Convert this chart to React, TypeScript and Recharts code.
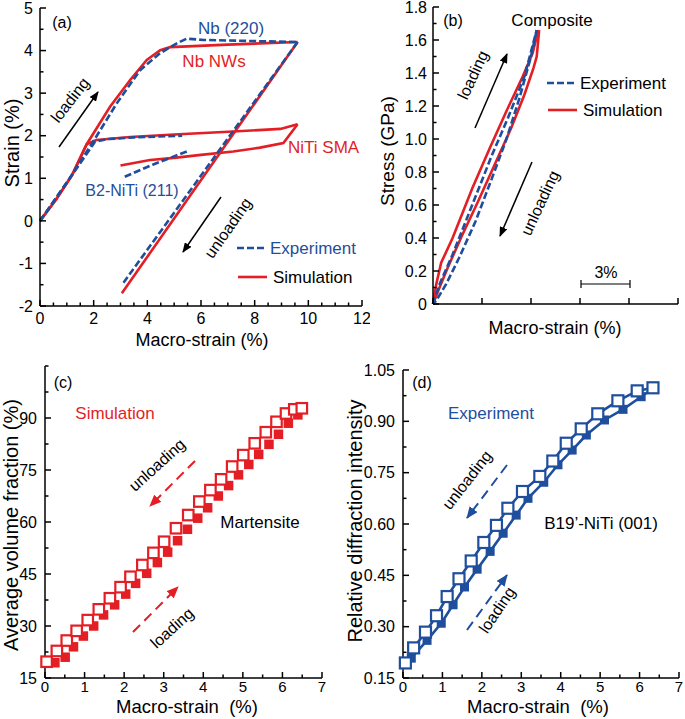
import React from 'react';
import { ComposedChart, ScatterChart, Line, Scatter, XAxis, YAxis } from 'recharts';

const RED = '#e31e24';
const BLUE = '#1f4e9d';
const FONT = 'Arial, "Liberation Sans", sans-serif';

// ---------- (a) lattice strain vs macro-strain ----------
const expNbLoadX = [0, 1.0, 2.05, 2.86, 3.73, 4.48, 5.1, 5.47, 6.1, 9.6];
const expNbLoadY = [0, 0.9, 1.93, 2.76, 3.54, 3.94, 4.17, 4.28, 4.25, 4.2];
const expNbUnloadX = [9.6, 3.08];
const expNbUnloadY = [4.2, -1.48];
const expNiTiLoadX = [0, 1.0, 2.05, 2.5, 3.5, 5.3];
const expNiTiLoadY = [0, 0.9, 1.86, 1.92, 1.96, 2.0];
const expNiTiUnloadX = [5.47, 4.2, 3.1];
const expNiTiUnloadY = [1.63, 1.32, 1.02];

const simNbLoadX = [0, 0.6, 1.2, 1.74, 2.61, 3.36, 3.98, 4.48, 4.85, 7.0, 9.6];
const simNbLoadY = [0, 0.5, 1.08, 1.8, 2.68, 3.31, 3.78, 4.01, 4.08, 4.14, 4.2];
const simNbUnloadX = [9.6, 3.05];
const simNbUnloadY = [4.2, -1.7];
const simNiTiLoadX = [0, 0.6, 1.2, 1.74, 2.1, 3.36, 5.0, 7.2, 8.96, 9.6];
const simNiTiLoadY = [0, 0.5, 1.08, 1.8, 1.9, 1.97, 2.03, 2.1, 2.16, 2.27];
const simNiTiUnloadX = [9.6, 9.07, 8.2, 7.2, 6.0, 5.0, 4.1, 3.0];
const simNiTiUnloadY = [2.27, 1.83, 1.72, 1.63, 1.55, 1.48, 1.43, 1.3];

const aXLabels = [0, 2, 4, 6, 8, 10, 12];
const aYLabels = [-2, -1, 0, 1, 2, 3, 4, 5];

// ---------- (b) composite stress-strain ----------
const bExpLoadX = [0, 0.4, 1.2, 2.4, 3.6, 4.6, 5.6, 6.35];
const bExpLoadY = [0, 0.12, 0.3, 0.6, 0.9, 1.13, 1.38, 1.66];
const bExpUnloadX = [6.35, 6.0, 5.3, 4.5, 3.6, 2.6, 1.6, 0.8, 0.2, 0];
const bExpUnloadY = [1.66, 1.5, 1.25, 1.0, 0.76, 0.5, 0.28, 0.12, 0.02, 0];
const bSimLoadX = [0, 0.2, 0.5, 1.2, 2.4, 3.5, 4.5, 5.5, 6.1, 6.45];
const bSimLoadY = [0, 0.12, 0.25, 0.4, 0.7, 0.95, 1.17, 1.38, 1.52, 1.66];
const bSimUnloadX = [6.5, 6.35, 6.15, 5.6, 4.8, 3.8, 2.8, 1.8, 0.9, 0.4, 0];
const bSimUnloadY = [1.66, 1.5, 1.43, 1.27, 1.07, 0.85, 0.63, 0.42, 0.22, 0.1, 0];

const bXTicks = [0, 3, 6, 9, 12, 15];
const bYLabels = [0, 0.2, 0.4, 0.6, 0.8, 1.0, 1.2, 1.4, 1.6, 1.8];

// ---------- (c) martensite volume fraction (simulation) ----------
const cLoadX = [0.25, 0.51, 0.72, 0.97, 1.23, 1.48, 1.76, 2.04, 2.29, 2.57, 2.84, 3.1, 3.35, 3.6, 3.86, 4.11, 4.38, 4.64, 4.89, 5.15, 5.4, 5.66, 5.9, 6.15, 6.39];
const cLoadY = [19.4, 21.0, 24.0, 27.1, 30.0, 33.2, 36.1, 39.2, 42.3, 45.2, 48.3, 51.3, 54.6, 57.9, 61.1, 64.1, 67.5, 70.5, 73.6, 76.6, 79.5, 82.4, 85.3, 88.5, 90.9];
const cUnloadX = [0.04, 0.3, 0.55, 0.8, 1.08, 1.36, 1.64, 1.91, 2.16, 2.46, 2.74, 3.01, 3.31, 3.62, 3.9, 4.18, 4.45, 4.73, 5.01, 5.3, 5.58, 5.85, 6.09, 6.3, 6.49];
const cUnloadY = [19.7, 22.8, 25.8, 28.6, 31.7, 34.8, 38.0, 41.2, 44.2, 47.6, 51.1, 54.3, 58.2, 62.0, 65.9, 69.2, 72.3, 76.0, 79.3, 82.7, 85.9, 88.9, 91.3, 92.5, 92.8];

const cYLabels = [15, 30, 45, 60, 75, 90];
const cXLabels = [0, 1, 2, 3, 4, 5, 6, 7];

// ---------- (d) B19' diffraction intensity (experiment) ----------
const dLoadX = [0.06, 0.21, 0.61, 0.97, 1.27, 1.56, 1.88, 2.21, 2.54, 2.87, 3.17, 3.57, 3.93, 4.29, 4.65, 5.11, 5.58, 6.04, 6.34];
const dLoadY = [0.194, 0.208, 0.26, 0.31, 0.364, 0.416, 0.468, 0.52, 0.573, 0.626, 0.675, 0.722, 0.773, 0.816, 0.86, 0.904, 0.935, 0.972, 0.996];
const dUnloadX = [0.06, 0.27, 0.57, 0.85, 1.12, 1.42, 1.73, 2.05, 2.37, 2.66, 3.03, 3.47, 3.8, 4.14, 4.52, 4.94, 5.45, 5.94, 6.34];
const dUnloadY = [0.194, 0.238, 0.284, 0.332, 0.388, 0.44, 0.492, 0.546, 0.596, 0.646, 0.695, 0.739, 0.784, 0.836, 0.878, 0.922, 0.96, 0.989, 0.998];

const dYLabels = [0.15, 0.3, 0.45, 0.6, 0.75, 0.9, 1.05];

const zip = (xs: number[], ys: number[]) => xs.map((x, i) => ({ x, y: ys[i] }));

// minor ticks halfway between labelled ones
const withMinors = (majors: number[]) => {
  const out: number[] = [];
  majors.forEach((m, i) => {
    out.push(m);
    if (i < majors.length - 1) out.push((m + majors[i + 1]) / 2);
  });
  return out;
};
const halves = (majors: number[], step: number) => {
  const out: number[] = [];
  for (let i = 0; i < majors.length - 1; i++) {
    for (let v = majors[i]; v < majors[i + 1] - 1e-9; v += step) out.push(+v.toFixed(4));
  }
  out.push(majors[majors.length - 1]);
  return out;
};

const AXIS_LINE = { stroke: '#000', strokeWidth: 1.5 };

type TickOpts = {
  axis: 'x' | 'y';
  labels: number[];
  margin: number;
  fmt?: (v: number) => string;
  size?: number;
  hideLabels?: boolean;
  major?: number;
  minor?: number;
};

const makeTick = (o: TickOpts) => (props: any) => {
  const { x, y, payload } = props;
  const v = payload.value;
  const isMajor = o.labels.some((l) => Math.abs(l - v) < 1e-6);
  const len = isMajor ? o.major ?? 6 : o.minor ?? 3.5;
  const label = isMajor && !o.hideLabels ? (o.fmt ? o.fmt(v) : String(v)) : null;
  const fs = o.size ?? 16;
  if (o.axis === 'y') {
    const ax = x + o.margin;
    return (
      <g>
        <line x1={ax} x2={ax + len} y1={y} y2={y} stroke="#000" strokeWidth={1.5} />
        {label && (
          <text x={x} y={y} dy="0.36em" textAnchor="end" fontSize={fs} fontFamily={FONT} fill="#000">
            {label}
          </text>
        )}
      </g>
    );
  }
  const ay = y - o.margin;
  return (
    <g>
      <line x1={x} x2={x} y1={ay} y2={ay - len} stroke="#000" strokeWidth={1.5} />
      {label && (
        <text x={x} y={y} dy="0.71em" textAnchor="middle" fontSize={fs} fontFamily={FONT} fill="#000">
          {label}
        </text>
      )}
    </g>
  );
};

const filledSq = (color: string, s: number) => (p: any) =>
  <rect x={p.cx - s / 2} y={p.cy - s / 2} width={s} height={s} fill={color} />;
const openSq = (color: string, s: number) => (p: any) =>
  <rect x={p.cx - s / 2} y={p.cy - s / 2} width={s} height={s} fill="#fff" stroke={color} strokeWidth={2.2} />;

function borderAxes(xd: number[], yd: number[]) {
  return [
    <XAxis key="tx" xAxisId="top" orientation="top" type="number" domain={xd} height={0} tick={false} tickLine={false} axisLine={AXIS_LINE} />,
    <YAxis key="ry" yAxisId="right" orientation="right" type="number" domain={yd} width={0} tick={false} tickLine={false} axisLine={AXIS_LINE} />,
  ];
}

const lineProps = (color: string, dashed: boolean) => ({
  type: 'linear' as const,
  dataKey: 'y',
  stroke: color,
  strokeWidth: 2.6,
  strokeDasharray: dashed ? '7 3' : undefined,
  dot: false,
  isAnimationActive: false,
  xAxisId: 0,
  yAxisId: 0,
});

function PanelA() {
  return (
    <ComposedChart width={370} height={356} margin={{ top: 8, right: 8, left: 0, bottom: 0 }}>
      <XAxis xAxisId={0} dataKey="x" type="number" domain={[0, 12]} ticks={halves(aXLabels, 0.5)} interval={0}
        tickSize={0} tickMargin={7} tickLine={false} axisLine={AXIS_LINE} height={50}
        tick={makeTick({ axis: 'x', labels: aXLabels, margin: 7 })} />
      <YAxis yAxisId={0} dataKey="y" type="number" domain={[-2, 5]} ticks={halves(aYLabels, 0.5)} interval={0}
        tickSize={0} tickMargin={7} tickLine={false} axisLine={AXIS_LINE} width={40}
        tick={makeTick({ axis: 'y', labels: aYLabels, margin: 7 })} />
      {borderAxes([0, 12], [-2, 5])}
      <Line {...lineProps(RED, false)} data={zip(simNbLoadX, simNbLoadY)} />
      <Line {...lineProps(RED, false)} data={zip(simNbUnloadX, simNbUnloadY)} />
      <Line {...lineProps(RED, false)} data={zip(simNiTiLoadX, simNiTiLoadY)} />
      <Line {...lineProps(RED, false)} data={zip(simNiTiUnloadX, simNiTiUnloadY)} />
      <Line {...lineProps(BLUE, true)} data={zip(expNbLoadX, expNbLoadY)} />
      <Line {...lineProps(BLUE, true)} data={zip(expNbUnloadX, expNbUnloadY)} />
      <Line {...lineProps(BLUE, true)} data={zip(expNiTiLoadX, expNiTiLoadY)} />
      <Line {...lineProps(BLUE, true)} data={zip(expNiTiUnloadX, expNiTiUnloadY)} />
    </ComposedChart>
  );
}

function PanelB() {
  return (
    <ComposedChart width={315} height={350} margin={{ top: 7, right: 7, left: 0, bottom: 0 }}>
      <XAxis xAxisId={0} dataKey="x" type="number" domain={[0, 15]} ticks={bXTicks} interval={0}
        tickSize={0} tickMargin={7} tickLine={false} axisLine={AXIS_LINE} height={46}
        tick={makeTick({ axis: 'x', labels: bXTicks, margin: 7, hideLabels: true })} />
      <YAxis yAxisId={0} dataKey="y" type="number" domain={[0, 1.8]} ticks={withMinors(bYLabels)} interval={0}
        tickSize={0} tickMargin={6} tickLine={false} axisLine={AXIS_LINE} width={63}
        tick={makeTick({ axis: 'y', labels: bYLabels, margin: 6, fmt: (v) => (v === 0 ? '0' : v.toFixed(1)) })} />
      {borderAxes([0, 15], [0, 1.8])}
      <Line {...lineProps(RED, false)} data={zip(bSimLoadX, bSimLoadY)} />
      <Line {...lineProps(RED, false)} data={zip(bSimUnloadX, bSimUnloadY)} />
      <Line {...lineProps(BLUE, true)} data={zip(bExpLoadX, bExpLoadY)} />
      <Line {...lineProps(BLUE, true)} data={zip(bExpUnloadX, bExpUnloadY)} />
    </ComposedChart>
  );
}

function PanelC() {
  const yTicks = withMinors([...cYLabels, 105]);
  return (
    <ScatterChart width={330} height={359} margin={{ top: 6, right: 8, left: 0, bottom: 0 }}>
      <XAxis xAxisId={0} dataKey="x" type="number" domain={[0, 7]} ticks={withMinors(cXLabels)} interval={0}
        tickSize={0} tickMargin={3} tickLine={false} axisLine={AXIS_LINE} height={41}
        tick={makeTick({ axis: 'x', labels: cXLabels, margin: 3, size: 15 })} />
      <YAxis yAxisId={0} dataKey="y" type="number" domain={[15, 105]} ticks={yTicks} interval={0}
        tickSize={0} tickMargin={8} tickLine={false} axisLine={AXIS_LINE} width={45}
        tick={makeTick({ axis: 'y', labels: cYLabels, margin: 8 })} />
      {borderAxes([0, 7], [15, 105])}
      <Scatter xAxisId={0} yAxisId={0} data={zip(cLoadX, cLoadY)} shape={filledSq(RED, 9.5)} isAnimationActive={false} />
      <Scatter xAxisId={0} yAxisId={0} data={zip(cUnloadX, cUnloadY)} shape={openSq(RED, 10.5)} isAnimationActive={false} />
    </ScatterChart>
  );
}

function PanelD() {
  return (
    <ScatterChart width={355} height={359} margin={{ top: 10, right: 6, left: 0, bottom: 0 }}>
      <XAxis xAxisId={0} dataKey="x" type="number" domain={[0, 7]} ticks={withMinors(cXLabels)} interval={0}
        tickSize={0} tickMargin={3} tickLine={false} axisLine={AXIS_LINE} height={41}
        tick={makeTick({ axis: 'x', labels: cXLabels, margin: 3, size: 15 })} />
      <YAxis yAxisId={0} dataKey="y" type="number" domain={[0.15, 1.05]} ticks={withMinors(dYLabels)} interval={0}
        tickSize={0} tickMargin={8} tickLine={false} axisLine={AXIS_LINE} width={73}
        tick={makeTick({ axis: 'y', labels: dYLabels, margin: 8, fmt: (v) => v.toFixed(2) })} />
      {borderAxes([0, 7], [0.15, 1.05])}
      <Scatter xAxisId={0} yAxisId={0} data={zip(dLoadX, dLoadY)} shape={filledSq(BLUE, 9)}
        line={{ stroke: BLUE, strokeWidth: 2.6 }} lineType="joint" isAnimationActive={false} />
      <Scatter xAxisId={0} yAxisId={0} data={zip(dUnloadX, dUnloadY)} shape={openSq(BLUE, 11)}
        line={{ stroke: BLUE, strokeWidth: 2.6 }} lineType="joint" isAnimationActive={false} />
    </ScatterChart>
  );
}

const T = (p: { x: number; y: number; size?: number; color?: string; rot?: number; anchor?: string; children: string }) => (
  <text
    x={p.x}
    y={p.y}
    fontSize={p.size ?? 17}
    fontFamily={FONT}
    fill={p.color ?? '#000'}
    textAnchor={(p.anchor ?? 'middle') as any}
    dominantBaseline="central"
    transform={p.rot ? `rotate(${p.rot} ${p.x} ${p.y})` : undefined}
    style={{ whiteSpace: 'pre' }}
  >
    {p.children}
  </text>
);

function Overlay() {
  return (
    <svg width={685} height={719} style={{ position: 'absolute', left: 0, top: 0, pointerEvents: 'none' }}>
      <defs>
        <marker id="ahK" markerWidth="10" markerHeight="8" refX="9" refY="4" orient="auto" markerUnits="userSpaceOnUse">
          <path d="M0,0 L10,4 L0,8 Z" fill="#000" />
        </marker>
        <marker id="ahR" markerWidth="12" markerHeight="10" refX="11" refY="5" orient="auto" markerUnits="userSpaceOnUse">
          <path d="M0,0 L12,5 L0,10 Z" fill={RED} />
        </marker>
        <marker id="ahB" markerWidth="12" markerHeight="10" refX="11" refY="5" orient="auto" markerUnits="userSpaceOnUse">
          <path d="M0,0 L12,5 L0,10 Z" fill={BLUE} />
        </marker>
      </defs>

      {/* (a) */}
      <T x={12} y={143} size={20} rot={-90}>Strain (%)</T>
      <T x={202} y={340} size={18}>Macro-strain (%)</T>
      <T x={62} y={22} size={16}>(a)</T>
      <T x={231} y={28} color={BLUE}>Nb (220)</T>
      <T x={214} y={61} color={RED}>Nb NWs</T>
      <T x={288} y={147} color={RED} anchor="start">NiTi SMA</T>
      <T x={132} y={190} size={16} color={BLUE}>B2-NiTi (211)</T>
      <T x={70} y={100} size={16} rot={-52}>loading</T>
      <T x={228} y={228} size={16} rot={-55}>unloading</T>
      <line x1={59} y1={147} x2={98} y2={92} stroke="#000" strokeWidth={1.5} markerEnd="url(#ahK)" />
      <line x1={221} y1={197} x2={183} y2={252} stroke="#000" strokeWidth={1.5} markerEnd="url(#ahK)" />
      <line x1={237} y1={248} x2={267} y2={248} stroke={BLUE} strokeWidth={2.6} strokeDasharray="7 3" />
      <T x={270} y={248} color={BLUE} anchor="start">Experiment</T>
      <line x1={238} y1={277} x2={267} y2={277} stroke={RED} strokeWidth={2.6} />
      <T x={273} y={277} anchor="start">Simulation</T>

      {/* (b) */}
      <T x={387} y={151} size={19} rot={-90}>Stress (GPa)</T>
      <T x={555} y={328} size={18}>Macro-strain (%)</T>
      <T x={453} y={20} size={16}>(b)</T>
      <T x={552} y={20}>Composite</T>
      <line x1={547} y1={83} x2={577} y2={83} stroke={BLUE} strokeWidth={2.6} strokeDasharray="7 3" />
      <T x={580} y={83} anchor="start">Experiment</T>
      <line x1={548} y1={110} x2={577} y2={110} stroke={RED} strokeWidth={2.6} />
      <T x={583} y={110} anchor="start">Simulation</T>
      <T x={473} y={75} size={16} rot={-65}>loading</T>
      <T x={540} y={203} size={16} rot={-65}>unloading</T>
      <line x1={475} y1={128} x2={507} y2={54} stroke="#000" strokeWidth={1.5} markerEnd="url(#ahK)" />
      <line x1={532} y1={162} x2={500} y2={236} stroke="#000" strokeWidth={1.5} markerEnd="url(#ahK)" />
      <line x1={581} y1={284} x2={630} y2={284} stroke="#000" strokeWidth={1.2} />
      <line x1={581} y1={280} x2={581} y2={288} stroke="#000" strokeWidth={1.2} />
      <line x1={630} y1={280} x2={630} y2={288} stroke="#000" strokeWidth={1.2} />
      <T x={606} y={272} size={16}>3%</T>

      {/* (c) */}
      <T x={11} y={525} size={20} rot={-90}>Average volume fraction (%)</T>
      <T x={187} y={706} size={18.5}>Macro-strain  (%)</T>
      <T x={63} y={382} size={16}>(c)</T>
      <T x={115} y={413} color={RED}>Simulation</T>
      <T x={260} y={522}>Martensite</T>
      <T x={157} y={465} size={16} rot={-42}>unloading</T>
      <T x={172} y={628} size={16} rot={-42}>loading</T>
      <line x1={195} y1={461} x2={150} y2={506} stroke={RED} strokeWidth={2} strokeDasharray="10 6" markerEnd="url(#ahR)" />
      <line x1={133} y1={632} x2={178} y2={587} stroke={RED} strokeWidth={2} strokeDasharray="10 6" markerEnd="url(#ahR)" />

      {/* (d) */}
      <T x={355} y={521} size={20} rot={-90}>Relative diffraction intensity</T>
      <T x={538} y={706} size={18.5}>Macro-strain  (%)</T>
      <T x={422} y={382} size={16}>(d)</T>
      <T x={491} y={413} color={BLUE}>Experiment</T>
      <T x={601} y={523}>B19’-NiTi (001)</T>
      <T x={467} y={480} size={16} rot={-52}>unloading</T>
      <T x={497} y={610} size={16} rot={-56}>loading</T>
      <line x1={507} y1={465} x2={467} y2={518} stroke={BLUE} strokeWidth={2} strokeDasharray="10 6" markerEnd="url(#ahB)" />
      <line x1={467} y1={630} x2={507} y2={575} stroke={BLUE} strokeWidth={2} strokeDasharray="10 6" markerEnd="url(#ahB)" />
    </svg>
  );
}

export default function App() {
  return (
    <div style={{ position: 'absolute', left: 0, top: 0, width: 685, height: 719, background: '#fff', fontFamily: FONT }}>
      <div style={{ position: 'absolute', left: 0, top: 0 }}><PanelA /></div>
      <div style={{ position: 'absolute', left: 370, top: 0 }}><PanelB /></div>
      <div style={{ position: 'absolute', left: 0, top: 360 }}><PanelC /></div>
      <div style={{ position: 'absolute', left: 330, top: 360 }}><PanelD /></div>
      <Overlay />
    </div>
  );
}
